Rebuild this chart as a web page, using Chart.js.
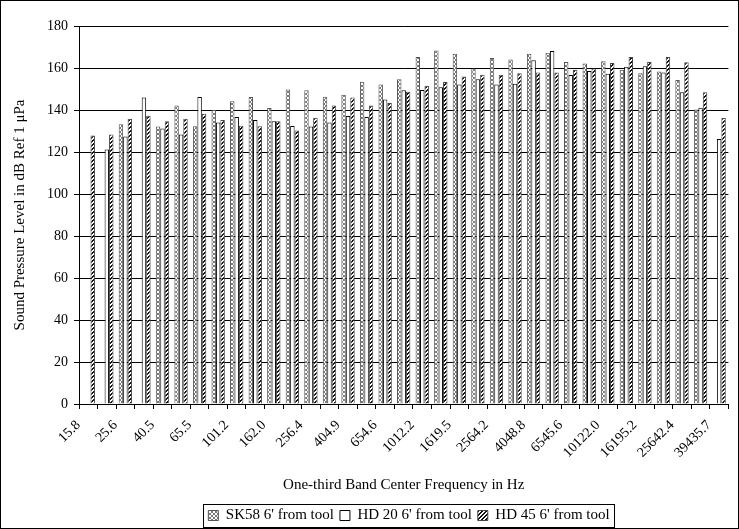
<!DOCTYPE html>
<html>
<head>
<meta charset="utf-8">
<script src="https://cdn.jsdelivr.net/npm/chart.js@4.4.1/dist/chart.umd.min.js"></script>
<style>
  html, body { margin: 0; padding: 0; background: #fff; }
  #wrap { width: 739px; height: 529px; }
</style>
</head>
<body>
<div id="wrap"><canvas id="barChart" width="739" height="529"></canvas></div>
<script>
// one-third octave band centres (only every other one is labelled on the axis)
const BANDS = [
  '15.8', '20.2', '25.6', '32.0', '40.5', '51.2', '65.5', '80.9', '101.2', '128.1',
  '162.0', '204.8', '256.4', '323.0', '404.9', '512.0', '654.6', '809.8', '1012.2', '1281.0',
  '1619.5', '2024.6', '2564.2', '3240.8', '4048.8', '5124.8', '6545.6', '8097.6', '10122.0', '12812.1',
  '16195.2', '20243.9', '25642.4', '32388.2', '39435.7'
];

const SK58 = [
  null, null, 133.2, null, 132.2, 142.2, 132.3, 140.0, 144.2, 146.2,
  141.0, 149.8, 149.4, 146.3, 147.3, 153.5, 152.1, 154.7, 165.2, 168.3,
  166.8, 159.8, 164.8, 164.1, 166.8, 167.3, 162.9, 162.2, 163.2, 159.2,
  157.5, 158.3, 154.3, 140.2, null
];

const HD20 = [
  null, 121.2, 127.4, 145.9, 131.2, 128.3, 146.2, 134.1, 136.7, 135.2,
  134.6, 132.4, 132.2, 134.0, 137.1, 136.7, 145.0, 149.4, 149.5, 150.8,
  152.2, 154.6, 152.2, 152.5, 163.7, 168.1, 156.7, 158.6, 157.3, 160.6,
  160.8, 157.9, 148.4, 141.1, 126.2
];

const HD45 = [
  127.8, 128.3, 135.8, 137.3, 134.6, 135.8, 138.2, 135.2, 132.5, 132.3,
  134.6, 130.2, 136.3, 142.2, 145.9, 142.2, 143.3, 148.7, 151.6, 153.3,
  155.9, 156.8, 156.8, 157.5, 157.8, 157.8, 159.2, 159.8, 162.4, 165.2,
  162.9, 165.2, 162.7, 148.4, 136.2
];

const SERIES_NAMES = ["SK58 6' from tool", "HD 20 6' from tool", "HD 45 6' from tool"];

const Y_MIN = 0;
const Y_MAX = 180;
const Y_STEP = 20;

function makePattern(size, paint) {
  const c = document.createElement('canvas');
  c.width = size;
  c.height = size;
  const g = c.getContext('2d');
  g.fillStyle = '#fff';
  g.fillRect(0, 0, size, size);
  for (let y = 0; y < size; y++) {
    for (let x = 0; x < size; x++) {
      const col = paint(x, y);
      if (col) {
        g.fillStyle = col;
        g.fillRect(x, y, 1, 1);
      }
    }
  }
  return g.createPattern(c, 'repeat');
}

// light dotted cross-hatch
const speckle = makePattern(4, (x, y) => (x === y || x + y === 3) ? '#7a7a7a' : null);
// bold forward diagonal stripes
const hatch = makePattern(4, (x, y) => ((x + y) % 4 < 2) ? '#111' : null);

const framePlugin = {
  id: 'frame',
  afterLayout(chart) {
    // centre the legend under the plot and drop it a little
    const lg = chart.legend;
    lg.left = chart.chartArea.left;
    lg.top += 4;
    lg.bottom += 4;
  },
  afterDraw(chart) {
    const ctx = chart.ctx;
    ctx.save();
    ctx.strokeStyle = '#000';
    ctx.lineWidth = 1;
    // legend box
    const hb = chart.legend.legendHitBoxes;
    if (hb && hb.length) {
      const l = hb[0].left - 5;
      const last = hb[hb.length - 1];
      const r = last.left + last.width + 5;
      const t = hb[0].top - 4;
      const b = hb[0].top + hb[0].height + 4;
      ctx.strokeRect(Math.round(l) + 0.5, Math.round(t) + 0.5, Math.round(r - l), Math.round(b - t));
    }
    // outer chart border
    ctx.strokeRect(0.5, 0.5, chart.width - 1, chart.height - 1);
    ctx.restore();
  }
};

Chart.defaults.font.family = '"Liberation Serif", "Times New Roman", serif';
Chart.defaults.color = '#000';

const ctx = document.getElementById('barChart').getContext('2d');
new Chart(ctx, {
  type: 'bar',
  data: {
    labels: BANDS,
    datasets: [
      {
        label: SERIES_NAMES[0],
        data: SK58,
        backgroundColor: speckle,
        borderColor: '#555',
        borderWidth: 1
      },
      {
        label: SERIES_NAMES[1],
        data: HD20,
        backgroundColor: '#fff',
        borderColor: '#000',
        borderWidth: 1
      },
      {
        label: SERIES_NAMES[2],
        data: HD45,
        backgroundColor: hatch,
        borderColor: '#444',
        borderWidth: 1
      }
    ]
  },
  options: {
    responsive: false,
    animation: false,
    devicePixelRatio: 1,
    datasets: {
      bar: { categoryPercentage: 0.72, barPercentage: 1.0 }
    },
    layout: { padding: { top: 26, right: 0, bottom: 0, left: 0 } },
    plugins: {
      tooltip: { enabled: false },
      legend: {
        position: 'bottom',
        labels: {
          font: { size: 15 },
          boxWidth: 10,
          boxHeight: 10,
          padding: 6,
          color: '#000'
        }
      }
    },
    scales: {
      x: {
        offset: true,
        grid: {
          offset: true,
          drawOnChartArea: false,
          drawTicks: true,
          tickLength: 5,
          color: '#000'
        },
        border: { color: '#000', width: 1 },
        ticks: {
          autoSkip: false,
          minRotation: 45,
          maxRotation: 45,
          padding: 8,
          labelOffset: -10,
          font: { size: 14 },
          callback: (val, i) => (i % 2 === 0 ? BANDS[i] : '')
        },
        title: {
          display: true,
          text: 'One-third Band Center Frequency in Hz',
          font: { size: 15 },
          padding: { top: 4, bottom: 4 }
        },
        afterFit: scale => { scale.height = 94; }
      },
      y: {
        min: Y_MIN,
        max: Y_MAX,
        grid: {
          color: '#000',
          drawTicks: true,
          tickLength: 5
        },
        border: { color: '#000', width: 1 },
        ticks: {
          stepSize: Y_STEP,
          padding: 6,
          font: { size: 14 }
        },
        title: {
          display: true,
          text: 'Sound Pressure Level in dB Ref 1 μPa',
          font: { size: 15 },
          padding: { top: 11, bottom: 4 }
        },
        afterFit: scale => { scale.width = 79; }
      }
    }
  },
  plugins: [framePlugin]
});
</script>
</body>
</html>
